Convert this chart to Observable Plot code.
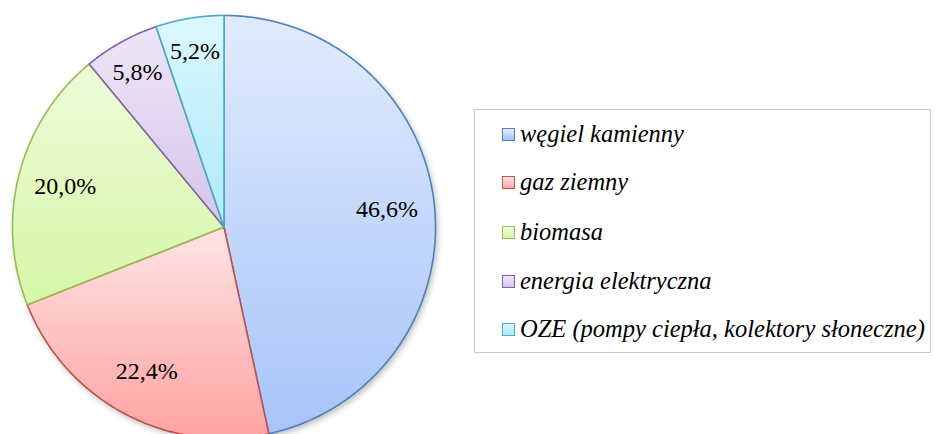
<!DOCTYPE html>
<html>
<head>
<meta charset="utf-8">
<script src="https://cdn.jsdelivr.net/npm/d3@7"></script>
<script src="https://cdn.jsdelivr.net/npm/@observablehq/plot@0.6"></script>
<style>
  html, body { margin: 0; padding: 0; background: #fff; }
  #wrap { position: relative; width: 935px; height: 434px; overflow: hidden; }
  #legend {
    position: absolute; left: 474px; top: 109px; width: 457px; height: 244px;
    box-sizing: border-box; border: 1.5px solid #c8c8c8; background: #fff;
    font-family: 'Liberation Serif', serif; font-style: italic;
    font-size: 24.5px; color: #000;
  }
  .item { position: absolute; left: 27px; height: 30px; display: flex; align-items: center; white-space: nowrap; }
  .sw { width: 11px; height: 11px; border: 1.5px solid; margin-right: 5px; }
</style>
</head>
<body>
<div id="wrap"></div>
<script>
const categories = ["węgiel kamienny", "gaz ziemny", "biomasa", "energia elektryczna", "OZE (pompy ciepła, kolektory słoneczne)"];
const values = [46.6, 22.4, 20.0, 5.8, 5.2];
const strokes = ["#4f81bd", "#c0504d", "#9bbb59", "#8064a2", "#4bacc6"];
const gradTop = ["#e1ebfd", "#fee4e4", "#eefbd9", "#eee6f7", "#dcf7fe"];
const gradBottom = ["#a7c4f9", "#ffa2a2", "#d6f6a6", "#d4c5eb", "#aceafa"];

const total = d3.sum(values);
const slices = [];
const labels = [];
let acc = 0;
values.forEach((v, i) => {
  const a0 = acc / total * 2 * Math.PI;
  acc += v;
  const a1 = acc / total * 2 * Math.PI;
  const n = Math.max(4, Math.ceil((a1 - a0) / (Math.PI / 360)));
  slices.push({i, x: 0, y: 0});
  for (let k = 0; k <= n; k++) {
    const a = a0 + (a1 - a0) * k / n;
    slices.push({i, x: Math.sin(a), y: Math.cos(a)});
  }
  slices.push({i, x: 0, y: 0});
  const am = (a0 + a1) / 2;
  const rf = v < 10 ? 0.84 : 0.775;
  labels.push({i, x: rf * Math.sin(am), y: rf * Math.cos(am), text: v.toFixed(1).replace(".", ",") + "%"});
});
const outline = slices.filter(d => d.x !== 0 || d.y !== 0);

const marks = [
  Plot.line(outline, {x: "x", y: "y", fill: "#000", fillOpacity: 0.28, stroke: "none", dx: 2, dy: 3})
];
categories.forEach((c, i) => {
  marks.push(Plot.line(slices.filter(d => d.i === i), {
    x: "x", y: "y", fill: `url(#g${i})`, stroke: strokes[i], strokeWidth: 1.6,
    strokeLinejoin: "round", curve: "linear"
  }));
});
marks.push(Plot.text(labels, {
  x: "x", y: "y", text: "text", fontSize: 24,
  fontFamily: "'Liberation Serif', serif", fill: "#000"
}));

const svg = Plot.plot({
  width: 935, height: 434, margin: 0,
  x: {domain: [-1, 1], range: [12, 435], axis: null},
  y: {domain: [-1, 1], range: [438, 15], axis: null},
  style: {background: "transparent", overflow: "hidden"},
  marks
});

const defs = d3.select(svg).insert("defs", ":first-child");
defs.append("filter").attr("id", "blur").attr("x", "-10%").attr("y", "-10%").attr("width", "120%").attr("height", "120%")
  .append("feGaussianBlur").attr("stdDeviation", 3);
categories.forEach((c, i) => {
  const g = defs.append("linearGradient").attr("id", `g${i}`).attr("x1", 0).attr("y1", 0).attr("x2", 0).attr("y2", 1);
  g.append("stop").attr("offset", "0%").attr("stop-color", gradTop[i]);
  g.append("stop").attr("offset", "100%").attr("stop-color", gradBottom[i]);
});
const firstLine = svg.querySelector("g[aria-label='line']");
if (firstLine) firstLine.setAttribute("filter", "url(#blur)");

const wrap = document.getElementById("wrap");
wrap.appendChild(svg);
svg.style.position = "absolute";
svg.style.left = "0";
svg.style.top = "0";

const legend = document.createElement("div");
legend.id = "legend";
const rowTops = [9, 57, 107, 156, 204];
categories.forEach((c, i) => {
  const it = document.createElement("div");
  it.className = "item";
  it.style.top = rowTops[i] + "px";
  const sw = document.createElement("div");
  sw.className = "sw";
  sw.style.borderColor = strokes[i];
  sw.style.background = `linear-gradient(${gradTop[i]}, ${gradBottom[i]})`;
  const t = document.createElement("span");
  t.textContent = c;
  it.appendChild(sw);
  it.appendChild(t);
  legend.appendChild(it);
});
wrap.appendChild(legend);
</script>
</body>
</html>
